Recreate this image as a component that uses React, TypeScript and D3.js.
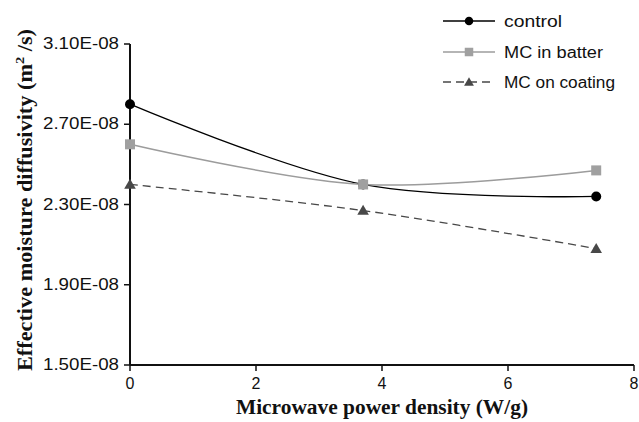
import React from "react";
import * as d3 from "d3";

const powerDensity = [0, 3.7, 7.4];
const controlValues = [2.8e-8, 2.4e-8, 2.34e-8];
const batterValues = [2.6e-8, 2.4e-8, 2.47e-8];
const coatingValues = [2.4e-8, 2.27e-8, 2.08e-8];
const yTicks = [1.5e-8, 1.9e-8, 2.3e-8, 2.7e-8, 3.1e-8];
const yTickLabels = ["1.50E-08", "1.90E-08", "2.30E-08", "2.70E-08", "3.10E-08"];
const xTicks = [0, 2, 4, 6, 8];
const seriesNames = ["control", "MC in batter", "MC on coating"];

const W = 639;
const H = 422;
const x = d3.scaleLinear().domain([0, 8]).range([130, 634]);
const y = d3.scaleLinear().domain([1.5e-8, 3.1e-8]).range([365, 44]);

type Pt = [number, number];
const toPts = (vals: number[]): Pt[] => vals.map((v, i) => [powerDensity[i], v]);
const line = d3
  .line<Pt>()
  .x((d) => x(d[0]))
  .y((d) => y(d[1]))
  .curve(d3.curveCatmullRom.alpha(0.5));

const triPath = (size: number) => d3.symbol(d3.symbolTriangle, size)() || "";

export default function App() {
  const series = [
    { name: seriesNames[0], values: controlValues, color: "#000000", marker: "circle", dash: "", width: 1.3 },
    { name: seriesNames[1], values: batterValues, color: "#9c9c9c", marker: "square", dash: "", width: 1.5 },
    { name: seriesNames[2], values: coatingValues, color: "#484848", marker: "triangle", dash: "8,5", width: 1.3 },
  ];
  const legendY = [21, 52, 82];
  const legendLabelLen = [58, 99, 111];

  const marker = (type: string, cx: number, cy: number, color: string, scale: number, key: string) => {
    if (type === "circle") return <circle key={key} cx={cx} cy={cy} r={5 * scale} fill={color} />;
    if (type === "square")
      return <rect key={key} x={cx - 5 * scale} y={cy - 5 * scale} width={10 * scale} height={10 * scale} fill={color} />;
    return <path key={key} d={triPath(58 * scale * scale)} transform={`translate(${cx},${cy + 1})`} fill={color} />;
  };

  return (
    <svg width={W} height={H} style={{ position: "absolute", left: 0, top: 0, background: "#fff" }}>
      <rect width={W} height={H} fill="#fff" />
      {series.map((s) => (
        <path
          key={s.name}
          d={line(toPts(s.values)) || ""}
          fill="none"
          stroke={s.color}
          strokeWidth={s.width}
          strokeDasharray={s.dash || undefined}
        />
      ))}
      <line x1={x(0)} x2={x(8)} y1={y(1.5e-8)} y2={y(1.5e-8)} stroke="#111" strokeWidth={2} />
      <line x1={x(0)} x2={x(0)} y1={y(1.5e-8)} y2={y(3.1e-8)} stroke="#111" strokeWidth={2} />
      {yTicks.map((t, i) => (
        <g key={"yt" + i}>
          <line x1={x(0) - 6} x2={x(0)} y1={y(t)} y2={y(t)} stroke="#111" strokeWidth={1.5} />
          <text
            x={119}
            y={y(t) + 5}
            textAnchor="end"
            fontFamily="Liberation Sans, Arial, sans-serif"
            fontSize={16}
            fill="#111"
            textLength={76}
            lengthAdjust="spacingAndGlyphs"
          >
            {yTickLabels[i]}
          </text>
        </g>
      ))}
      {xTicks.map((t) => (
        <g key={"xt" + t}>
          <line x1={x(t)} x2={x(t)} y1={y(1.5e-8)} y2={y(1.5e-8) + 6} stroke="#111" strokeWidth={1.5} />
          <text
            x={x(t)}
            y={389}
            textAnchor="middle"
            fontFamily="Liberation Sans, Arial, sans-serif"
            fontSize={16}
            fill="#111"
          >
            {t}
          </text>
        </g>
      ))}
      {series.map((s) =>
        s.values.map((v, i) =>
          marker(s.marker, x(powerDensity[i]), y(v), s.color === "#9c9c9c" ? "#a0a0a0" : s.color, 1, s.name + i)
        )
      )}
      <text
        x={382}
        y={414}
        textAnchor="middle"
        fontFamily="Liberation Serif, Times New Roman, serif"
        fontWeight="bold"
        fontSize={20}
        fill="#111"
        textLength={292}
        lengthAdjust="spacingAndGlyphs"
      >
        Microwave power density (W/g)
      </text>
      <text
        transform="translate(32,200) rotate(-90)"
        textAnchor="middle"
        fontFamily="Liberation Serif, Times New Roman, serif"
        fontWeight="bold"
        fontSize={20}
        fill="#111"
        textLength={342}
        lengthAdjust="spacingAndGlyphs"
      >
        Effective moisture diffusivity (m
        <tspan fontSize={13} dy={-8}>2</tspan>
        <tspan dy={8}> /s)</tspan>
      </text>
      {series.map((s, i) => (
        <g key={"lg" + i}>
          <line
            x1={443}
            x2={495}
            y1={legendY[i]}
            y2={legendY[i]}
            stroke={s.color}
            strokeWidth={s.width}
            strokeDasharray={s.dash || undefined}
          />
          {marker(s.marker, 469, legendY[i], s.color === "#9c9c9c" ? "#a0a0a0" : s.color, 0.85, "lm" + i)}
          <text
            x={504}
            y={legendY[i] + 6}
            fontFamily="Liberation Sans, Arial, sans-serif"
            fontSize={16}
            fill="#111"
            textLength={legendLabelLen[i]}
            lengthAdjust="spacingAndGlyphs"
          >
            {s.name}
          </text>
        </g>
      ))}
    </svg>
  );
}
